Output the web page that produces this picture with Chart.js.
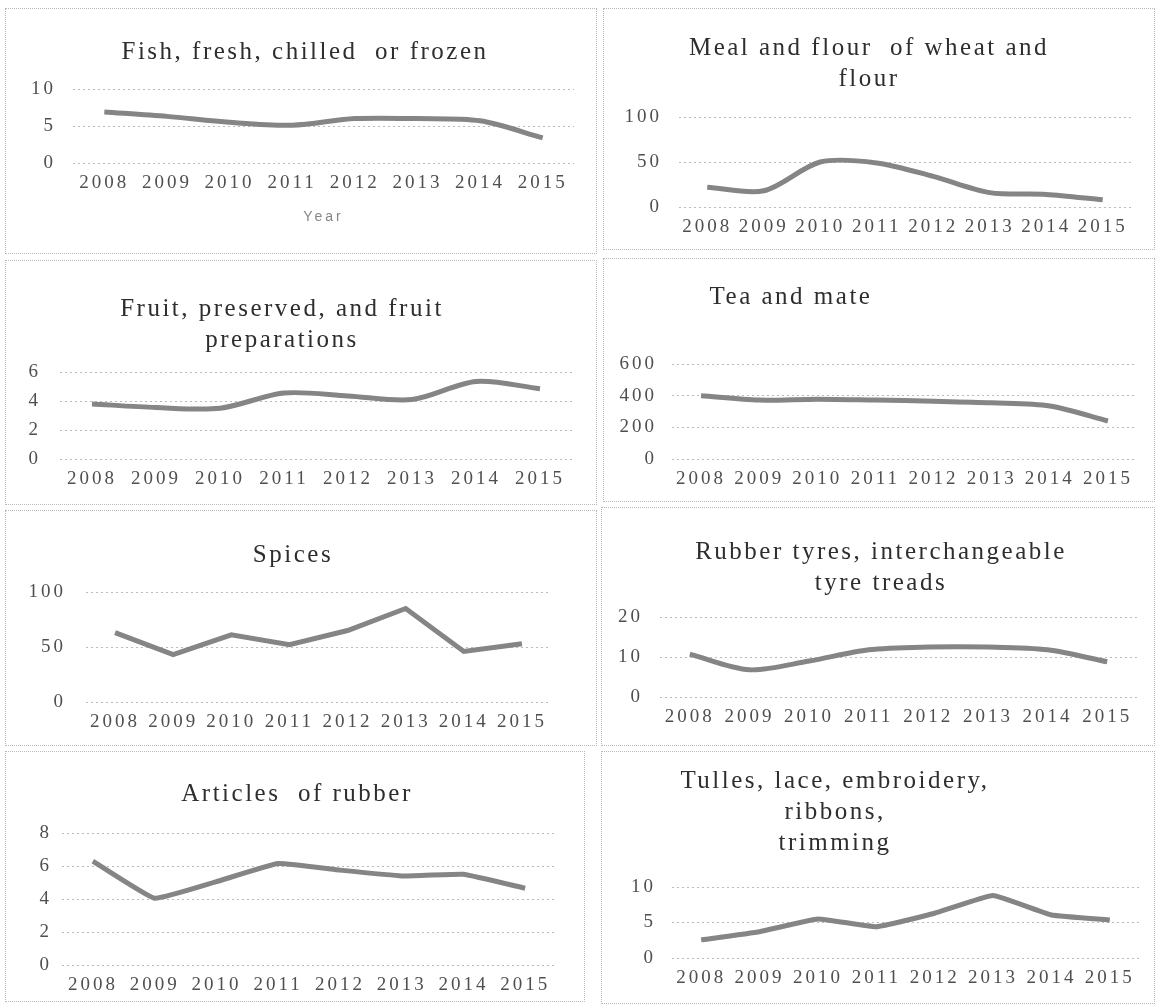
<!DOCTYPE html>
<html>
<head>
<meta charset="utf-8">
<script src="https://cdn.jsdelivr.net/npm/chart.js@4.4.1/dist/chart.umd.min.js"></script>
<style>
  html, body { margin: 0; padding: 0; background: #fff; }
  body { width: 1160px; height: 1007px; position: relative; overflow: hidden;
         font-family: "Liberation Serif", "Times New Roman", serif; }
  .panel { position: absolute; border: 1px dotted #b8b8b8; box-sizing: border-box; }
  canvas.chart { position: absolute; }
  .title { position: absolute; width: 640px; text-align: center; font-size: 25px;
           line-height: 31px; letter-spacing: 2.5px; color: #2e2e2e; white-space: pre; }
</style>
</head>
<body>
<script>
// Categories
const years = ['2008', '2009', '2010', '2011', '2012', '2013', '2014', '2015'];

// Series values, one product group per chart
const fishValues        = [6.9, 6.3, 5.5, 5.1, 6.0, 6.0, 5.7, 3.4];
const wheatFlourValues  = [22, 18, 50, 49, 34, 16, 14, 8];
const fruitValues       = [3.8, 3.55, 3.5, 4.55, 4.35, 4.1, 5.35, 4.85];
const teaValues         = [400, 372, 378, 372, 365, 355, 335, 240];
const spicesValues      = [63, 43, 61, 52, 65, 85, 46, 53];
const tyreValues        = [10.7, 6.8, 9.0, 11.8, 12.5, 12.5, 11.8, 8.8];
const rubberArticles    = [6.3, 4.05, 5.05, 6.15, 5.75, 5.4, 5.5, 4.65];
const tulleValues       = [2.55, 3.7, 5.5, 4.4, 6.3, 8.8, 6.05, 5.35];

// Axis ticks
const yMaxValues  = [10, 100, 6, 600, 100, 20, 8, 10];
const yStepValues = [5, 50, 2, 200, 50, 10, 2, 5];

// Chart titles (one entry per line)
const chartTitles = [
  ['Fish, fresh, chilled  or frozen'],
  ['Meal and flour  of wheat and', 'flour'],
  ['Fruit, preserved, and fruit', 'preparations'],
  ['Tea and mate'],
  ['Spices'],
  ['Rubber tyres, interchangeable', 'tyre treads'],
  ['Articles  of rubber'],
  ['Tulles, lace, embroidery,', 'ribbons,', 'trimming']
];
const xAxisTitle = 'Year';

const seriesList = [fishValues, wheatFlourValues, fruitValues, teaValues,
                    spicesValues, tyreValues, rubberArticles, tulleValues];

// Page layout: panel box [x, y, w, h], plot area [left, right, top, bottom],
// title centre [x, y of first line]
const panels = [
  { box: [5, 8, 592, 246],   plot: [73, 574, 89, 163],   title: [305, 50],  yPad: 17, tension: 0.3, xTitle: true },
  { box: [603, 8, 552, 242], plot: [679, 1131, 117, 207], title: [869, 46],  yPad: 17, tension: 0.3 },
  { box: [5, 260, 592, 245], plot: [60, 572, 372, 459],  title: [282, 307], yPad: 19, tension: 0.3 },
  { box: [603, 258, 552, 244], plot: [672, 1137, 364, 459], title: [791, 295], yPad: 15, tension: 0.3 },
  { box: [5, 510, 592, 236], plot: [86, 551, 592, 702],  title: [293, 553], yPad: 20, tension: 0 },
  { box: [601, 507, 554, 239], plot: [660, 1137, 617, 697], title: [881, 550], yPad: 17, tension: 0.3 },
  { box: [5, 751, 580, 251], plot: [62, 556, 833, 965],  title: [297, 792], yPad: 10, tension: 0.1 },
  { box: [601, 751, 554, 253], plot: [672, 1139, 887, 958], title: [835, 779], yPad: 16, tension: 0.1 }
];

const Y_AXIS_W = 60;
const TITLE_LINE_H = 31;
const tickFont = { family: "'Liberation Serif', 'Times New Roman', serif", size: 19 };
const tickColor = '#4f4f4f';

// Wide letter spacing for axis text
const spacedText = {
  id: 'spacedText',
  beforeUpdate(chart) { chart.ctx.letterSpacing = '3px'; },
  beforeLayout(chart) { chart.ctx.letterSpacing = '3px'; },
  beforeDraw(chart) { chart.ctx.letterSpacing = '3px'; }
};

panels.forEach((g, i) => {
  const [bx, by, bw, bh] = g.box;

  // dotted frame
  const frame = document.createElement('div');
  frame.className = 'panel';
  Object.assign(frame.style, { left: bx + 'px', top: by + 'px', width: bw + 'px', height: bh + 'px' });
  document.body.appendChild(frame);

  // canvas sits slightly wider than the frame so long tick labels have room
  const ox = Math.max(0, bx - 6), oy = by + 1;
  const cw = bx + bw - 1 - ox, ch = bh - 2;
  const canvas = document.createElement('canvas');
  canvas.className = 'chart';
  canvas.width = cw; canvas.height = ch;
  Object.assign(canvas.style, { left: ox + 'px', top: oy + 'px', width: cw + 'px', height: ch + 'px' });
  document.body.appendChild(canvas);

  const title = document.createElement('div');
  title.className = 'title';
  title.textContent = chartTitles[i].join('\n');
  title.style.left = (g.title[0] - 320) + 'px';
  title.style.top = (g.title[1] - TITLE_LINE_H / 2) + 'px';
  document.body.appendChild(title);

  const [pl, pr, pt, pb] = g.plot;
  const xH = g.xTitle ? 67 : 30;

  new Chart(canvas, {
    type: 'line',
    data: {
      labels: years,
      datasets: [{
        data: seriesList[i],
        borderColor: '#858585',
        borderWidth: 5,
        pointRadius: 0,
        tension: g.tension,
        fill: false
      }]
    },
    options: {
      responsive: false,
      animation: false,
      events: [],
      layout: { padding: { left: pl - ox - Y_AXIS_W, right: ox + cw - pr, top: pt - oy, bottom: oy + ch - pb - xH } },
      plugins: { legend: { display: false }, tooltip: { enabled: false }, title: { display: false } },
      scales: {
        x: {
          offset: true,
          grid: { display: false, drawTicks: false },
          border: { display: false },
          ticks: { font: tickFont, color: tickColor, padding: 9, maxRotation: 0, autoSkip: false },
          title: {
            display: !!g.xTitle,
            text: xAxisTitle,
            font: { family: "'Liberation Sans', Arial, sans-serif", size: 14 },
            color: '#858585',
            padding: { top: 4, bottom: 4 }
          },
          afterFit(scale) { scale.height = xH; }
        },
        y: {
          min: 0,
          max: yMaxValues[i],
          grid: { color: '#bababa', lineWidth: 1, drawTicks: false },
          border: { display: false, dash: [2, 3] },
          ticks: { stepSize: yStepValues[i], font: tickFont, color: tickColor, padding: g.yPad },
          afterFit(scale) { scale.width = Y_AXIS_W; }
        }
      }
    },
    plugins: [spacedText]
  });
});
</script>
</body>
</html>
